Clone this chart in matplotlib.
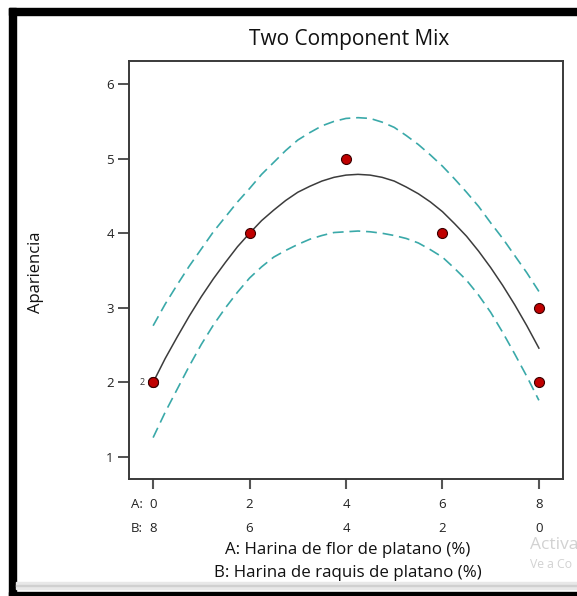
import matplotlib
matplotlib.use("Agg")
import matplotlib.pyplot as plt
from matplotlib.patches import Rectangle
import matplotlib.transforms as mtransforms

# ---- data ----
x_points = [0, 0, 2, 4, 6, 8, 8]
y_points = [2, 2, 4, 5, 4, 3, 2]

x_curve = [0, 0.25, 0.5, 0.75, 1, 1.25, 1.5, 1.75, 2, 2.25, 2.5, 2.75, 3, 3.25, 3.5,
           3.75, 4, 4.25, 4.5, 4.75, 5, 5.25, 5.5, 5.75, 6, 6.25, 6.5, 6.75, 7,
           7.25, 7.5, 7.75, 8]
y_fit = [2.00, 2.32, 2.61, 2.89, 3.15, 3.39, 3.61, 3.82, 4.00, 4.17, 4.31, 4.44,
         4.55, 4.63, 4.70, 4.75, 4.78, 4.79, 4.78, 4.75, 4.70, 4.62, 4.53, 4.42,
         4.29, 4.13, 3.96, 3.76, 3.54, 3.30, 3.04, 2.76, 2.46]
y_upper = [2.76, 3.05, 3.31, 3.56, 3.79, 4.02, 4.22, 4.42, 4.60, 4.79, 4.95, 5.11,
           5.25, 5.35, 5.44, 5.50, 5.54, 5.55, 5.54, 5.49, 5.42, 5.31, 5.19, 5.05,
           4.90, 4.73, 4.55, 4.36, 4.14, 3.93, 3.70, 3.47, 3.22]
y_lower = [1.26, 1.60, 1.91, 2.22, 2.51, 2.77, 3.00, 3.21, 3.40, 3.55, 3.68, 3.77,
           3.85, 3.92, 3.97, 4.01, 4.02, 4.03, 4.02, 4.00, 3.97, 3.93, 3.87, 3.78,
           3.68, 3.53, 3.37, 3.17, 2.94, 2.67, 2.38, 2.08, 1.76]

x_ticks = [0, 2, 4, 6, 8]
a_labels = ["0", "2", "4", "6", "8"]
b_labels = ["8", "6", "4", "2", "0"]
y_ticks = [1, 2, 3, 4, 5, 6]

title = "Two Component Mix"
ylabel = "Apariencia"
xlabel_a = "A: Harina de flor de platano (%)"
xlabel_b = "B: Harina de raquis de platano (%)"

# ---- figure ----
W, H = 577, 596
DPI = 100
plt.rcParams['font.family'] = ['Open Sans', 'DejaVu Sans']
fig = plt.figure(figsize=(W / DPI, H / DPI), dpi=DPI)
fig.patch.set_facecolor('white')

def fx(px):
    return px / W

def fy(py):
    return 1 - py / H

# window frame decorations
fig.add_artist(Rectangle((fx(9), fy(596)), fx(16) - fx(9), fy(8) - fy(596),
                         transform=fig.transFigure, color='black', zorder=0))
fig.add_artist(Rectangle((fx(9), fy(15)), 1 - fx(9), fy(8) - fy(15),
                         transform=fig.transFigure, color='black', zorder=0))
fig.add_artist(Rectangle((fx(16), fy(589)), 1 - fx(16), fy(582) - fy(589),
                         transform=fig.transFigure, color='#e8e8e8', zorder=0))
fig.add_artist(Rectangle((fx(16), fy(586)), 1 - fx(16), fy(585) - fy(586),
                         transform=fig.transFigure, color='#d0d0d0', zorder=0))
fig.add_artist(Rectangle((fx(9), 0), 1 - fx(9), fy(592),
                         transform=fig.transFigure, color='black', zorder=0))

left, right, top, bottom = 129, 563, 61, 479
ax = fig.add_axes([fx(left), fy(bottom), fx(right) - fx(left), fy(top) - fy(bottom)])
ax.set_xlim(-0.5, 8.5)
ax.set_ylim(0.705, 6.31)

teal = '#3aa9a9'
ax.plot(x_curve, y_upper, color=teal, lw=1.2, dashes=(6.5, 3.5))
ax.plot(x_curve, y_lower, color=teal, lw=1.2, dashes=(6.5, 3.5))
ax.plot(x_curve, y_fit, color='#3c3c3c', lw=1.1)
ax.plot(x_points, y_points, 'o', ms=7.2, mfc='#c00000', mec='#3a0000', mew=0.8,
        zorder=5, clip_on=False)
ax.text(-0.17, 2, "2", fontsize=6.5, ha='right', va='center', color='#333333')

for s in ax.spines.values():
    s.set_color('#3a3a3a')
    s.set_linewidth(1.4)

ax.set_yticks(y_ticks)
ax.set_yticklabels([str(v) for v in y_ticks], fontsize=9.5, color='#222222')
ax.tick_params(axis='y', direction='out', length=8, width=1.3, color='#444444', pad=3)
ax.set_xticks(x_ticks)
ax.set_xticklabels([])
ax.tick_params(axis='x', direction='out', length=7.5, width=1.5, color='#555555', pad=3)

trans = mtransforms.blended_transform_factory(ax.transData, fig.transFigure)
for xv, la, lb in zip(x_ticks, a_labels, b_labels):
    ax.text(xv, fy(504), la, transform=trans, ha='center', va='center', fontsize=9.5, color='#222222')
    ax.text(xv, fy(528), lb, transform=trans, ha='center', va='center', fontsize=9.5, color='#222222')
fig.text(fx(143), fy(504), "A:", ha='right', va='center', fontsize=9.5, color='#222222')
fig.text(fx(143), fy(528), "B:", ha='right', va='center', fontsize=9.5, color='#222222')

fig.text(fx(348), fy(550), xlabel_a, ha='center', va='center', fontsize=12.2, color='#111111')
fig.text(fx(348), fy(573), xlabel_b, ha='center', va='center', fontsize=12.2, color='#111111')
fig.text(fx(36), fy(272), ylabel, ha='center', va='center', rotation=90, fontsize=12, color='#111111')
fig.text(fx(349), fy(40), title, ha='center', va='center', fontsize=15, color='#111111')

# watermark text at the bottom right (as visible, cut by the window edge)
fig.text(fx(530), fy(545), "Activa", ha='left', va='center', fontsize=12.5, color='#d2d2d2')
fig.text(fx(530), fy(565), "Ve a Co", ha='left', va='center', fontsize=8.8, color='#d2d2d2')

fig.savefig("out.png", dpi=DPI)
